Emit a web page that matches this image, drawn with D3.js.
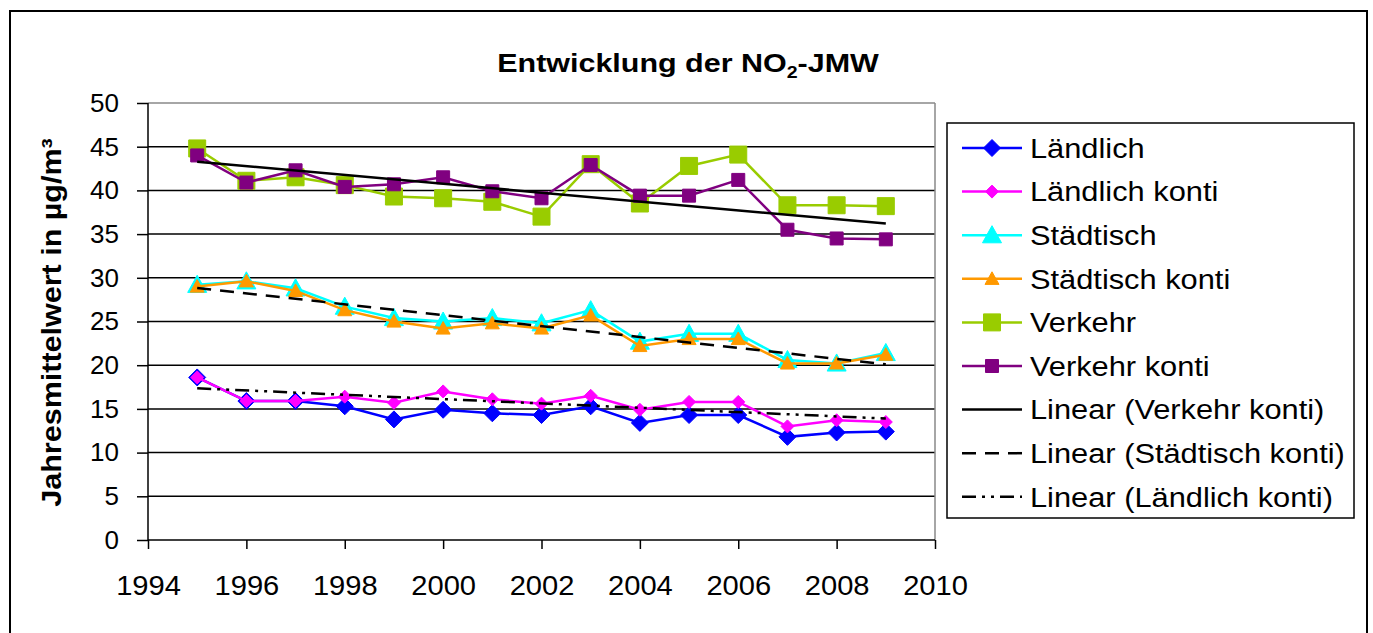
<!DOCTYPE html>
<html>
<head>
<meta charset="utf-8">
<script src="https://cdn.jsdelivr.net/npm/d3@7"></script>
<style>
    html, body { margin: 0; padding: 0; background: #fff; }
    svg { display: block; font-family: "Liberation Sans", Arial, sans-serif; }
</style>
</head>
<body>
<div id="chart"></div>
<script>
// 数据
const years = [1995, 1996, 1997, 1998, 1999, 2000, 2001, 2002, 2003, 2004, 2005, 2006, 2007, 2008, 2009];
const laendlich        = [18.6, 15.9, 15.9, 15.3, 13.8, 14.9, 14.5, 14.3, 15.3, 13.4, 14.3, 14.3, 11.8, 12.3, 12.4];
const laendlichKonti   = [18.6, 15.9, 15.9, 16.4, 15.7, 17.0, 16.1, 15.6, 16.5, 14.9, 15.8, 15.8, 13.0, 13.7, 13.5];
const staedtisch       = [29.2, 29.6, 28.8, 26.7, 25.4, 25.0, 25.4, 24.8, 26.3, 22.7, 23.6, 23.6, 20.6, 20.2, 21.4];
const staedtischKonti  = [29.0, 29.6, 28.5, 26.3, 25.0, 24.2, 24.8, 24.2, 25.7, 22.2, 23.0, 23.0, 20.2, 20.2, 21.2];
const verkehr          = [44.8, 41.1, 41.5, 40.6, 39.3, 39.1, 38.7, 37.0, 43.0, 38.5, 42.8, 44.1, 38.3, 38.3, 38.2];
const verkehrKonti     = [44.0, 40.9, 42.3, 40.4, 40.7, 41.5, 39.9, 39.1, 42.9, 39.4, 39.4, 41.2, 35.5, 34.5, 34.4];

const xTicks = [1994, 1996, 1998, 2000, 2002, 2004, 2006, 2008, 2010];
const yTicks = [0, 5, 10, 15, 20, 25, 30, 35, 40, 45, 50];

// 系列配置
const series = [
    { name: 'Ländlich',        values: laendlich,       color: '#0000FF', shape: 'diamond',  size: 17 },
    { name: 'Ländlich konti',  values: laendlichKonti,  color: '#FF00FF', shape: 'diamond',  size: 13 },
    { name: 'Städtisch',       values: staedtisch,      color: '#00FFFF', shape: 'triangle', size: 19 },
    { name: 'Städtisch konti', values: staedtischKonti, color: '#FF9900', shape: 'triangle', size: 14 },
    { name: 'Verkehr',         values: verkehr,         color: '#99CC00', shape: 'square',   size: 17 },
    { name: 'Verkehr konti',   values: verkehrKonti,    color: '#800080', shape: 'square',   size: 13 }
];

const trends = [
    { name: 'Linear (Verkehr konti)',   values: verkehrKonti,    dash: null },
    { name: 'Linear (Städtisch konti)', values: staedtischKonti, dash: '14,9' },
    { name: 'Linear (Ländlich konti)',  values: laendlichKonti,  dash: '14,6,3,6,3,6' }
];

// 尺寸
const W = 1373, H = 633;
const plot = { left: 148, top: 103, right: 935, bottom: 540 };
// 原图文字略宽，水平拉伸
const stretch = 1.1;

const svg = d3.select('#chart').append('svg')
    .attr('width', W)
    .attr('height', H);

// 外框
svg.append('rect')
    .attr('x', 10).attr('y', 11)
    .attr('width', 1357).attr('height', 640)
    .attr('fill', '#fff')
    .attr('stroke', '#000')
    .attr('stroke-width', 2);

const x = d3.scaleLinear().domain([1994, 2010]).range([plot.left, plot.right]);
const y = d3.scaleLinear().domain([0, 50]).range([plot.bottom, plot.top]);

// 网格线
svg.append('g')
    .selectAll('line')
    .data(yTicks.filter(d => d > 0))
    .join('line')
    .attr('x1', plot.left).attr('x2', plot.right)
    .attr('y1', d => y(d)).attr('y2', d => y(d))
    .attr('stroke', d => d === 50 ? '#888' : '#000')
    .attr('stroke-width', 1.5);

// 右侧边框
svg.append('line')
    .attr('x1', plot.right).attr('x2', plot.right)
    .attr('y1', plot.top).attr('y2', plot.bottom)
    .attr('stroke', '#888').attr('stroke-width', 1.5);

// 坐标轴
const yAxis = d3.axisLeft(y).tickValues(yTicks).tickSize(11).tickPadding(18);
const gy = svg.append('g')
    .attr('transform', `translate(${plot.left},0)`)
    .call(yAxis);
gy.select('.domain').attr('stroke', '#000').attr('stroke-width', 1.5)
    .attr('d', `M0,${plot.top}V${plot.bottom}`);
gy.selectAll('.tick line').attr('stroke', '#000').attr('stroke-width', 1.5);
gy.selectAll('.tick text')
    .attr('font-size', 26)
    .attr('fill', '#000')
    .attr('font-family', '"Liberation Sans", Arial, sans-serif');

const xAxis = d3.axisBottom(x).tickValues(xTicks).tickFormat(d3.format('d')).tickSize(9).tickPadding(26);
const gx = svg.append('g')
    .attr('transform', `translate(0,${plot.bottom})`)
    .call(xAxis);
gx.select('.domain').attr('stroke', '#000').attr('stroke-width', 1.5)
    .attr('d', `M${plot.left},0H${plot.right}`);
gx.selectAll('.tick line').attr('stroke', '#000').attr('stroke-width', 1.5);
gx.selectAll('.tick text')
    .attr('font-size', 28)
    .attr('fill', '#000')
    .attr('transform', 'scale(1.04,1)')
    .attr('font-family', '"Liberation Sans", Arial, sans-serif');

// 标记符号
function symbolFor(shape, size) {
    const h = size / 2;
    if (shape === 'diamond') {
        return `M0,${-h}L${h},0L0,${h}L${-h},0Z`;
    }
    if (shape === 'triangle') {
        return `M0,${-h}L${h},${h * 0.8}L${-h},${h * 0.8}Z`;
    }
    return `M${-h},${-h}H${h}V${h}H${-h}Z`;
}

const line = d3.line()
    .x((d, i) => x(years[i]))
    .y(d => y(d));

// 绘制系列
series.forEach(s => {
    const g = svg.append('g').attr('class', 'series');
    g.append('path')
        .datum(s.values)
        .attr('d', line)
        .attr('fill', 'none')
        .attr('stroke', s.color)
        .attr('stroke-width', 2.5);
    g.selectAll('path.marker')
        .data(s.values)
        .join('path')
        .attr('class', 'marker')
        .attr('transform', (d, i) => `translate(${x(years[i])},${y(d)})`)
        .attr('d', symbolFor(s.shape, s.size))
        .attr('fill', s.color)
        .attr('stroke', s.color)
        .attr('stroke-width', 1);
});

// 线性趋势线（最小二乘）
function linearFit(values) {
    const mx = d3.mean(years), my = d3.mean(values);
    let sxy = 0, sxx = 0;
    values.forEach((v, i) => {
        sxy += (years[i] - mx) * (v - my);
        sxx += (years[i] - mx) * (years[i] - mx);
    });
    const b = sxy / sxx;
    return yr => my + b * (yr - mx);
}

trends.forEach(t => {
    const f = linearFit(t.values);
    const x0 = years[0], x1 = years[years.length - 1];
    svg.append('line')
        .attr('x1', x(x0)).attr('y1', y(f(x0)))
        .attr('x2', x(x1)).attr('y2', y(f(x1)))
        .attr('stroke', '#000')
        .attr('stroke-width', 2.5)
        .attr('stroke-dasharray', t.dash);
});

// 标题
const title = svg.append('text')
    .attr('transform', 'translate(688,72) scale(1.15,1)')
    .attr('text-anchor', 'middle')
    .attr('font-size', 26.5)
    .attr('font-weight', 'bold');
title.append('tspan').text('Entwicklung der NO');
title.append('tspan').attr('dy', 6).attr('font-size', 17).text('2');
title.append('tspan').attr('dy', -6).text('-JMW');

// Y 轴标题
svg.append('text')
    .attr('transform', `translate(61,${(plot.top + plot.bottom) / 2 + 1}) rotate(-90) scale(1.09,1)`)
    .attr('text-anchor', 'middle')
    .attr('font-size', 28)
    .attr('font-weight', 'bold')
    .text('Jahresmittelwert in µg/m³');

// 图例
const legend = { x: 947, y: 123, w: 407, h: 395, rowH: 43.6, first: 148 };
svg.append('rect')
    .attr('x', legend.x).attr('y', legend.y)
    .attr('width', legend.w).attr('height', legend.h)
    .attr('fill', '#fff')
    .attr('stroke', '#000')
    .attr('stroke-width', 1.5);

const legendItems = series.map(s => ({ name: s.name, color: s.color, shape: s.shape, size: s.size, dash: null }))
    .concat(trends.map(t => ({ name: t.name, color: '#000', shape: null, dash: t.dash })));

legendItems.forEach((d, i) => {
    const cy = legend.first + i * legend.rowH;
    const g = svg.append('g');
    g.append('line')
        .attr('x1', 962).attr('x2', 1022)
        .attr('y1', cy).attr('y2', cy)
        .attr('stroke', d.color)
        .attr('stroke-width', 2.5)
        .attr('stroke-dasharray', d.dash);
    if (d.shape) {
        g.append('path')
            .attr('transform', `translate(992,${cy})`)
            .attr('d', symbolFor(d.shape, d.size))
            .attr('fill', d.color)
            .attr('stroke', d.color);
    }
    g.append('text')
        .attr('transform', `translate(1030,${cy}) scale(${stretch},1)`)
        .attr('dy', '0.35em')
        .attr('font-size', 28)
        .text(d.name);
});
</script>
</body>
</html>
